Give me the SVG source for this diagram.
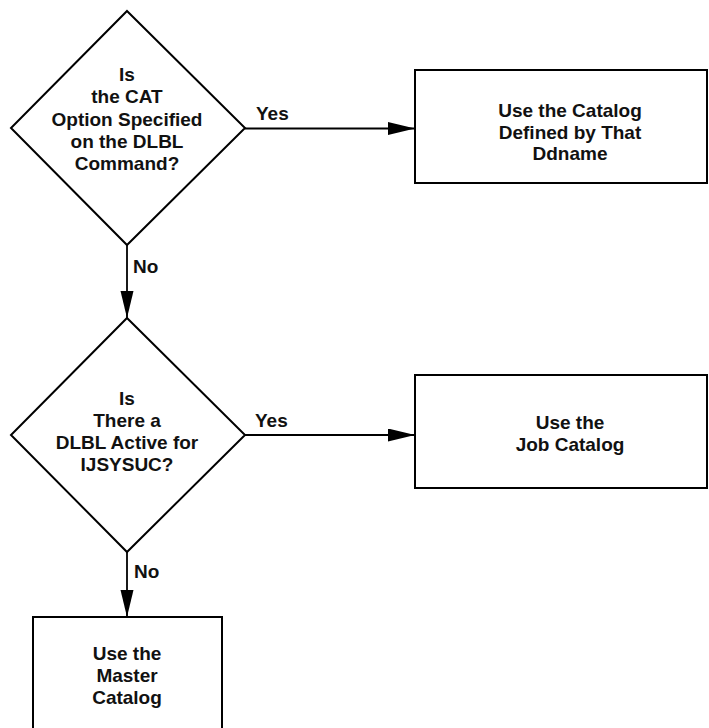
<svg xmlns="http://www.w3.org/2000/svg" width="709" height="728" viewBox="0 0 709 728">
  <defs>
    <marker id="arrow" markerUnits="userSpaceOnUse" markerWidth="28" markerHeight="14" refX="27" refY="6.5" orient="auto">
      <path d="M0,0 L27,6.5 L0,13 Z" fill="#000"/>
    </marker>
  </defs>
  <style>
    .shape { fill: #fff; stroke: #000; stroke-width: 2; }
    .link { fill: none; stroke: #000; stroke-width: 1.8; marker-end: url(#arrow); }
    text { font-family: "Liberation Sans", Arial, sans-serif; font-size: 19px; font-weight: bold; fill: #111; }
    .c { text-anchor: middle; }
  </style>
  <rect width="709" height="728" fill="#fff"/>

  <!-- connectors -->
  <g id="connectors">
    <line class="link" x1="245" y1="128.5" x2="415" y2="128.5"/>
    <line class="link" x1="127" y1="245" x2="127" y2="318"/>
    <line class="link" x1="245" y1="435" x2="415" y2="435"/>
    <line class="link" x1="127" y1="552" x2="127" y2="617"/>
    <text x="256" y="120">Yes</text>
    <text x="133" y="273">No</text>
    <text x="255" y="427">Yes</text>
    <text x="134" y="578">No</text>
  </g>

  <!-- decision: CAT option -->
  <g id="decision-cat">
    <polygon class="shape" points="127,11 245,128 127,245 11,128"/>
    <text class="c" x="127" y="81">Is</text>
    <text class="c" x="127" y="103">the CAT</text>
    <text class="c" x="127" y="126">Option Specified</text>
    <text class="c" x="127" y="148">on the DLBL</text>
    <text class="c" x="127" y="170">Command?</text>
  </g>

  <!-- process: catalog by ddname -->
  <g id="use-ddname-catalog">
    <rect class="shape" x="415" y="70" width="292" height="113"/>
    <text class="c" x="570" y="117">Use the Catalog</text>
    <text class="c" x="570" y="138.5">Defined by That</text>
    <text class="c" x="570" y="160">Ddname</text>
  </g>

  <!-- decision: IJSYSUC -->
  <g id="decision-ijsysuc">
    <polygon class="shape" points="127,318 245,435 127,552 11,435"/>
    <text class="c" x="127" y="405">Is</text>
    <text class="c" x="127" y="427">There a</text>
    <text class="c" x="127" y="449">DLBL Active for</text>
    <text class="c" x="127" y="471">IJSYSUC?</text>
  </g>

  <!-- process: job catalog -->
  <g id="use-job-catalog">
    <rect class="shape" x="415" y="375" width="292" height="113"/>
    <text class="c" x="570" y="429">Use the</text>
    <text class="c" x="570" y="450.5">Job Catalog</text>
  </g>

  <!-- process: master catalog -->
  <g id="use-master-catalog">
    <rect class="shape" x="33" y="617" width="189" height="120"/>
    <text class="c" x="127" y="660">Use the</text>
    <text class="c" x="127" y="682">Master</text>
    <text class="c" x="127" y="703.5">Catalog</text>
  </g>
</svg>
